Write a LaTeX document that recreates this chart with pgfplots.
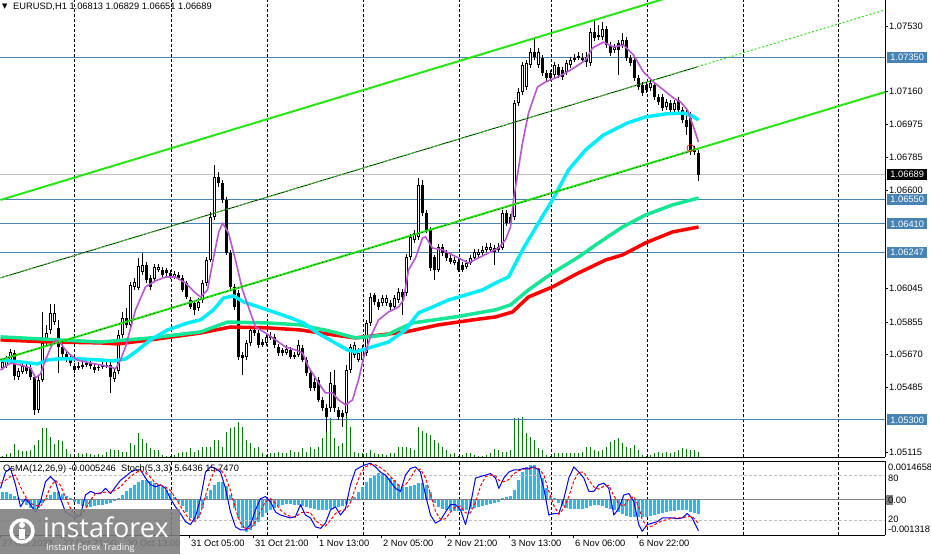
\documentclass[border=0pt]{standalone}
\usepackage{pgfplots}
\usepackage{pgfplotstable}
\pgfplotsset{compat=1.18}
\usepackage{fontspec}
\setmainfont{Liberation Sans}
\newfontfamily\wmfont{Open Sans}
\newfontfamily\symfont{DejaVu Sans}
\newcommand\lab{\fontsize{9.3}{11}\selectfont}

\definecolor{trgreen}{RGB}{40,230,20}
\definecolor{hblue}{RGB}{70,130,180}
\definecolor{maPurple}{RGB}{186,85,211}
\definecolor{maCyan}{RGB}{0,238,250}
\definecolor{maSpring}{RGB}{20,230,150}
\definecolor{maRed}{RGB}{255,0,0}
\definecolor{volgreen}{RGB}{0,128,0}
\definecolor{osma}{RGB}{40,185,240}
\definecolor{silverline}{RGB}{192,192,192}
\definecolor{wmgray}{RGB}{125,125,125}

% EURUSD H1 candles: index, open, high, low, close
\pgfplotstableread{
n O H L C
0 1.05594 1.05651 1.05583 1.05628
1 1.05605 1.05662 1.05594 1.05639
2 1.05639 1.05702 1.05628 1.05685
3 1.05679 1.05696 1.05526 1.05549
4 1.05543 1.05594 1.05526 1.05577
5 1.05572 1.05628 1.05560 1.05605
6 1.05605 1.05617 1.05560 1.05577
7 1.05594 1.05611 1.05526 1.05543
8 1.05543 1.05560 1.05328 1.05356
9 1.05356 1.05549 1.05339 1.05526
10 1.05526 1.05911 1.05515 1.05736
11 1.05736 1.05838 1.05719 1.05792
12 1.05809 1.05956 1.05787 1.05906
13 1.05854 1.05956 1.05838 1.05906
14 1.05821 1.05866 1.05566 1.05713
15 1.05713 1.05730 1.05656 1.05673
16 1.05673 1.05690 1.05628 1.05639
17 1.05645 1.05662 1.05605 1.05622
18 1.05605 1.05622 1.05566 1.05583
19 1.05594 1.05628 1.05583 1.05605
20 1.05600 1.05628 1.05589 1.05611
21 1.05611 1.05639 1.05600 1.05622
22 1.05622 1.05639 1.05589 1.05605
23 1.05600 1.05617 1.05566 1.05583
24 1.05594 1.05617 1.05577 1.05600
25 1.05600 1.05628 1.05589 1.05611
26 1.05600 1.05628 1.05594 1.05611
27 1.05611 1.05628 1.05453 1.05543
28 1.05532 1.05594 1.05515 1.05572
29 1.05577 1.05809 1.05560 1.05781
30 1.05781 1.05911 1.05764 1.05878
31 1.05878 1.05934 1.05821 1.05838
32 1.05838 1.06081 1.05821 1.06064
33 1.06053 1.06103 1.06036 1.06081
34 1.06047 1.06217 1.06036 1.06171
35 1.06137 1.06245 1.06120 1.06177
36 1.06177 1.06194 1.06075 1.06092
37 1.06103 1.06120 1.06036 1.06053
38 1.06098 1.06183 1.06087 1.06166
39 1.06149 1.06183 1.06137 1.06166
40 1.06149 1.06166 1.06109 1.06120
41 1.06149 1.06160 1.06115 1.06132
42 1.06132 1.06149 1.06098 1.06109
43 1.06109 1.06143 1.06098 1.06126
44 1.06120 1.06137 1.06092 1.06103
45 1.06103 1.06120 1.06024 1.06036
46 1.06075 1.06087 1.05985 1.05996
47 1.05979 1.05996 1.05928 1.05939
48 1.05962 1.05979 1.05894 1.05923
49 1.05934 1.05990 1.05917 1.05968
50 1.05979 1.06092 1.05962 1.06075
51 1.06075 1.06222 1.06058 1.06205
52 1.06205 1.06477 1.06194 1.06449
53 1.06449 1.06743 1.06432 1.06675
54 1.06675 1.06703 1.06619 1.06641
55 1.06641 1.06658 1.06528 1.06545
56 1.06545 1.06562 1.06234 1.06245
57 1.06245 1.06262 1.06036 1.06053
58 1.06053 1.06070 1.05923 1.05939
59 1.06019 1.06036 1.05639 1.05656
60 1.05668 1.05685 1.05555 1.05651
61 1.05656 1.05753 1.05639 1.05736
62 1.05736 1.05826 1.05719 1.05809
63 1.05809 1.05832 1.05775 1.05792
64 1.05792 1.05809 1.05707 1.05724
65 1.05741 1.05758 1.05713 1.05724
66 1.05736 1.05792 1.05719 1.05770
67 1.05764 1.05798 1.05753 1.05775
68 1.05770 1.05787 1.05707 1.05724
69 1.05713 1.05730 1.05662 1.05679
70 1.05696 1.05707 1.05662 1.05679
71 1.05679 1.05724 1.05668 1.05702
72 1.05696 1.05713 1.05645 1.05656
73 1.05668 1.05685 1.05645 1.05656
74 1.05668 1.05753 1.05656 1.05724
75 1.05707 1.05724 1.05628 1.05639
76 1.05639 1.05656 1.05549 1.05566
77 1.05566 1.05583 1.05464 1.05481
78 1.05515 1.05538 1.05464 1.05481
79 1.05526 1.05543 1.05402 1.05413
80 1.05413 1.05430 1.05351 1.05368
81 1.05368 1.05390 1.05232 1.05317
82 1.05368 1.05572 1.05345 1.05509
83 1.05498 1.05583 1.05345 1.05368
84 1.05356 1.05373 1.05300 1.05317
85 1.05339 1.05356 1.05260 1.05317
86 1.05339 1.05611 1.05322 1.05583
87 1.05583 1.05730 1.05566 1.05713
88 1.05668 1.05741 1.05651 1.05724
89 1.05639 1.05707 1.05628 1.05679
90 1.05639 1.05724 1.05628 1.05696
91 1.05679 1.05866 1.05662 1.05849
92 1.05849 1.06019 1.05832 1.05996
93 1.06007 1.06019 1.05951 1.05968
94 1.05968 1.05985 1.05923 1.05939
95 1.05962 1.06007 1.05945 1.05990
96 1.05962 1.06007 1.05945 1.05990
97 1.05962 1.05979 1.05923 1.05939
98 1.05939 1.06007 1.05923 1.05990
99 1.05979 1.06047 1.05962 1.06024
100 1.06024 1.06041 1.05894 1.05996
101 1.06019 1.06239 1.06002 1.06222
102 1.06222 1.06353 1.06205 1.06336
103 1.06319 1.06375 1.06302 1.06358
104 1.06336 1.06670 1.06319 1.06630
105 1.06630 1.06658 1.06454 1.06471
106 1.06471 1.06488 1.06358 1.06375
107 1.06375 1.06392 1.06143 1.06160
108 1.06222 1.06234 1.06092 1.06149
109 1.06149 1.06297 1.06137 1.06279
110 1.06279 1.06297 1.06228 1.06245
111 1.06245 1.06262 1.06200 1.06217
112 1.06217 1.06234 1.06183 1.06194
113 1.06188 1.06222 1.06177 1.06205
114 1.06194 1.06211 1.06137 1.06149
115 1.06177 1.06194 1.06137 1.06149
116 1.06166 1.06205 1.06154 1.06188
117 1.06188 1.06234 1.06177 1.06217
118 1.06217 1.06268 1.06205 1.06251
119 1.06234 1.06268 1.06222 1.06251
120 1.06245 1.06285 1.06234 1.06262
121 1.06262 1.06302 1.06251 1.06279
122 1.06262 1.06302 1.06245 1.06279
123 1.06273 1.06290 1.06177 1.06251
124 1.06262 1.06302 1.06251 1.06279
125 1.06273 1.06488 1.06262 1.06471
126 1.06471 1.06488 1.06398 1.06415
127 1.06449 1.06466 1.06398 1.06415
128 1.06449 1.07111 1.06432 1.07094
129 1.07094 1.07179 1.07077 1.07156
130 1.07156 1.07326 1.07139 1.07309
131 1.07185 1.07337 1.07168 1.07320
132 1.07309 1.07405 1.07292 1.07383
133 1.07383 1.07462 1.07337 1.07354
134 1.07309 1.07405 1.07292 1.07383
135 1.07349 1.07366 1.07247 1.07264
136 1.07264 1.07281 1.07219 1.07236
137 1.07264 1.07281 1.07219 1.07236
138 1.07252 1.07326 1.07236 1.07309
139 1.07298 1.07315 1.07236 1.07252
140 1.07281 1.07298 1.07224 1.07241
141 1.07269 1.07337 1.07252 1.07320
142 1.07309 1.07354 1.07292 1.07337
143 1.07337 1.07371 1.07326 1.07349
144 1.07349 1.07383 1.07337 1.07360
145 1.07337 1.07377 1.07320 1.07349
146 1.07354 1.07383 1.07298 1.07326
147 1.07320 1.07519 1.07303 1.07496
148 1.07496 1.07564 1.07445 1.07462
149 1.07468 1.07536 1.07451 1.07479
150 1.07468 1.07552 1.07451 1.07513
151 1.07513 1.07530 1.07405 1.07422
152 1.07422 1.07439 1.07360 1.07377
153 1.07394 1.07428 1.07377 1.07411
154 1.07434 1.07451 1.07252 1.07394
155 1.07422 1.07490 1.07405 1.07451
156 1.07451 1.07468 1.07332 1.07349
157 1.07349 1.07366 1.07303 1.07320
158 1.07337 1.07354 1.07219 1.07236
159 1.07236 1.07252 1.07168 1.07185
160 1.07196 1.07213 1.07134 1.07151
161 1.07196 1.07213 1.07151 1.07168
162 1.07179 1.07224 1.07162 1.07207
163 1.07196 1.07213 1.07111 1.07128
164 1.07128 1.07145 1.07083 1.07100
165 1.07128 1.07145 1.07049 1.07066
166 1.07071 1.07117 1.07054 1.07100
167 1.07094 1.07111 1.07037 1.07054
168 1.07054 1.07111 1.07037 1.07094
169 1.07111 1.07128 1.07037 1.07054
170 1.07054 1.07071 1.06981 1.06998
171 1.06998 1.07054 1.06913 1.06958
172 1.07009 1.07043 1.06800 1.06817
173 1.06817 1.06851 1.06800 1.06828
174 1.06813 1.06829 1.06651 1.06689
}\candles

% tick volume (relative)
\pgfplotstableread{
n v
0 1
1 3
2 4
3 13
4 7
5 6
6 6
7 7
8 12
9 17
10 29
11 29
12 20
13 13
14 17
15 16
16 8
17 3
18 2
19 4
20 3
21 4
22 3
23 2
24 3
25 2
26 5
27 8
28 7
29 7
30 5
31 5
32 14
33 12
34 24
35 18
36 14
37 9
38 7
39 7
40 2
41 1
42 1
43 2
44 4
45 5
46 5
47 9
48 5
49 7
50 10
51 10
52 10
53 17
54 17
55 10
56 25
57 29
58 30
59 35
60 30
61 17
62 14
63 9
64 10
65 4
66 2
67 4
68 4
69 5
70 4
71 4
72 7
73 5
74 5
75 9
76 5
77 10
78 8
79 10
80 19
81 47
82 39
83 19
84 11
85 14
86 47
87 30
88 5
89 4
90 4
91 4
92 7
93 4
94 3
95 3
96 2
97 4
98 4
99 10
100 10
101 10
102 9
103 7
104 30
105 26
106 24
107 22
108 17
109 14
110 10
111 7
112 3
113 4
114 1
115 2
116 4
117 4
118 2
119 1
120 1
121 2
122 4
123 8
124 7
125 5
126 5
127 7
128 39
129 39
130 40
131 24
132 20
133 17
134 9
135 7
136 2
137 1
138 4
139 4
140 4
141 4
142 4
143 4
144 4
145 5
146 10
147 10
148 7
149 6
150 7
151 10
152 15
153 17
154 19
155 14
156 10
157 9
158 12
159 7
160 2
161 1
162 2
163 4
164 5
165 4
166 5
167 4
168 5
169 7
170 9
171 8
172 7
173 7
174 5
}\vol

% OsMA(12,26,9)
\pgfplotstableread{
n v
0 3.01e-4
1 3.01e-4
2 2.26e-4
3 1.50e-4
4 0.75e-4
5 -0.75e-4
6 -1.88e-4
7 -3.01e-4
8 -3.76e-4
9 -3.01e-4
10 -1.13e-4
11 0.75e-4
12 1.88e-4
13 3.01e-4
14 3.01e-4
15 2.26e-4
16 1.50e-4
17 0.75e-4
18 -0.75e-4
19 -1.50e-4
20 -2.26e-4
21 -2.63e-4
22 -2.63e-4
23 -2.26e-4
24 -1.88e-4
25 -1.88e-4
26 -1.50e-4
27 -1.13e-4
28 -0.38e-4
29 0.75e-4
30 1.88e-4
31 3.38e-4
32 4.51e-4
33 5.64e-4
34 6.77e-4
35 7.52e-4
36 7.52e-4
37 7.14e-4
38 6.39e-4
39 5.64e-4
40 4.89e-4
41 3.76e-4
42 2.63e-4
43 1.13e-4
44 -0.75e-4
45 -2.26e-4
46 -4.51e-4
47 -6.77e-4
48 -8.27e-4
49 -6.77e-4
50 -3.01e-4
51 1.50e-4
52 3.76e-4
53 5.64e-4
54 6.77e-4
55 6.77e-4
56 5.26e-4
57 1.88e-4
58 -3.01e-4
59 -6.77e-4
60 -10.53e-4
61 -12.03e-4
62 -11.28e-4
63 -9.78e-4
64 -8.27e-4
65 -6.39e-4
66 -4.89e-4
67 -3.76e-4
68 -3.01e-4
69 -2.26e-4
70 -1.88e-4
71 -1.50e-4
72 -1.50e-4
73 -1.88e-4
74 -1.88e-4
75 -2.26e-4
76 -2.63e-4
77 -3.01e-4
78 -3.38e-4
79 -3.76e-4
80 -3.76e-4
81 -3.76e-4
82 -3.38e-4
83 -3.01e-4
84 -2.63e-4
85 -2.26e-4
86 -1.50e-4
87 -0.38e-4
88 1.13e-4
89 3.01e-4
90 4.89e-4
91 6.77e-4
92 8.27e-4
93 9.40e-4
94 10.15e-4
95 9.78e-4
96 9.02e-4
97 8.27e-4
98 7.52e-4
99 5.64e-4
100 4.89e-4
101 4.89e-4
102 5.26e-4
103 5.64e-4
104 6.39e-4
105 6.39e-4
106 5.64e-4
107 3.01e-4
108 -1.13e-4
109 -2.63e-4
110 -3.38e-4
111 -3.76e-4
112 -4.14e-4
113 -4.14e-4
114 -4.14e-4
115 -4.14e-4
116 -3.76e-4
117 -3.38e-4
118 -3.01e-4
119 -2.63e-4
120 -2.26e-4
121 -1.88e-4
122 -1.50e-4
123 -1.13e-4
124 -0.75e-4
125 0.75e-4
126 1.13e-4
127 1.50e-4
128 3.76e-4
129 7.52e-4
130 10.53e-4
131 12.41e-4
132 13.16e-4
133 13.16e-4
134 11.28e-4
135 8.27e-4
136 4.51e-4
137 1.50e-4
138 0.75e-4
139 -1.13e-4
140 -2.26e-4
141 -3.01e-4
142 -3.38e-4
143 -3.38e-4
144 -3.38e-4
145 -3.38e-4
146 -3.01e-4
147 -2.26e-4
148 -1.88e-4
149 -1.88e-4
150 -2.26e-4
151 -3.01e-4
152 -3.38e-4
153 -3.76e-4
154 -4.51e-4
155 -5.26e-4
156 -6.02e-4
157 -6.39e-4
158 -6.39e-4
159 -6.39e-4
160 -6.39e-4
161 -6.39e-4
162 -6.02e-4
163 -5.64e-4
164 -5.26e-4
165 -4.89e-4
166 -4.51e-4
167 -4.14e-4
168 -4.14e-4
169 -3.76e-4
170 -3.76e-4
171 -3.76e-4
172 -4.51e-4
173 -4.89e-4
174 -5.246e-4
}\osmatab

\pgfplotsset{
  panel/.style={scale only axis, width=885pt, xmin=-0.625, xmax=220.625, anchor=north west},
  daygrid/.style={extra x ticks={17.9,42.2,66.1,90.2,114.1,137.1,161.2,185.1,208.9},
    extra x tick labels={}, extra x tick style={grid=major, major tick length=0pt},
    major grid style={black, line width=0.8pt, dash pattern=on 3pt off 2pt}},
}
\tikzset{
  pbox/.style={anchor=west, fill=hblue, text=white, font=\lab, inner sep=0pt,
    minimum width=40pt, minimum height=11pt},
}

\begin{document}
\begin{tikzpicture}
\useasboundingbox (0pt,0pt) rectangle (931pt,-554pt);
\fill[white] (0pt,0pt) rectangle (931pt,-554pt);

% ---- volumes (main window overlay)
\begin{axis}[panel, at={(0pt,0pt)}, height=457pt, ymin=0, ymax=457, hide axis]
\addplot[ycomb, draw=volgreen, line width=1pt] table[x=n, y=v] {\vol};
\end{axis}

% ---- main price window
\begin{axis}[panel, at={(0pt,0pt)}, height=457pt, ymin=1.05090, ymax=1.07677,
  axis x line*=bottom, axis y line*=right, axis line style={-, black, line width=0.8pt},
  xtick=\empty, daygrid,
  ytick={1.05115,1.05485,1.05670,1.05855,1.06045,1.06600,1.06785,1.06975,1.07160,1.07530},
  yticklabels={1.05115,1.05485,1.05670,1.05855,1.06045,1.06600,1.06785,1.06975,1.07160,1.07530},
  tick align=outside, major tick length=3pt, tick style={black, line width=0.6pt},
  yticklabel style={font=\lab, anchor=west, inner sep=0pt, xshift=1pt},
]
% horizontal levels
\addplot[hblue, line width=1pt] coordinates {(-1,1.07350) (222,1.07350)};
\addplot[hblue, line width=1pt] coordinates {(-1,1.06550) (222,1.06550)};
\addplot[hblue, line width=1pt] coordinates {(-1,1.06410) (222,1.06410)};
\addplot[hblue, line width=1pt] coordinates {(-1,1.06247) (222,1.06247)};
\addplot[hblue, line width=1pt] coordinates {(-1,1.05300) (222,1.05300)};
\addplot[silverline, line width=1pt] coordinates {(-1,1.06689) (222,1.06689)};

% candles: wicks, bodies, white interiors of rising candles
\addplot[black, line width=1pt, quiver={u=0, v=\thisrow{H}-\thisrow{L}}]
  table[x=n, y=L] {\candles};
\addplot[black, line width=3pt, quiver={u=0, v={2*max(abs(\thisrow{C}-\thisrow{O})/2,0.00003)}}]
  table[x=n, y expr={(\thisrow{O}+\thisrow{C})/2-max(abs(\thisrow{C}-\thisrow{O})/2,0.00003)}] {\candles};
\addplot[white, line width=1pt, quiver={u=0, v={max(\thisrow{C}-\thisrow{O}-0.00012,0)}}]
  table[x=n, y expr={\thisrow{O}+0.00006}] {\candles};

% moving averages
\addplot[maRed, line width=3.5pt, line join=round] coordinates {
(-0.5,1.05753) (12,1.05741) (24.5,1.05736) (28.75,1.05730) (37,1.05753) (49.5,1.05792)
(57,1.05826) (66.25,1.05821) (74.5,1.05809) (82.75,1.05781) (88.25,1.05764) (100.75,1.05798)
(109,1.05838) (117.5,1.05866) (123.25,1.05883) (127.5,1.05911) (131.5,1.05996) (137.5,1.06053)
(144,1.06132) (150.75,1.06205) (155,1.06234) (160.75,1.06302) (167.5,1.06364) (174,1.06392)};
\addplot[maSpring, line width=3.5pt, line join=round] coordinates {
(-0.5,1.05770) (24.5,1.05741) (37,1.05764) (49.5,1.05798) (56.25,1.05854) (66.25,1.05849)
(74.5,1.05838) (82.75,1.05798) (88.25,1.05764) (96,1.05781) (102.5,1.05849) (113.25,1.05883)
(123.25,1.05923) (127,1.05951) (131.5,1.06036) (137.5,1.06132) (144,1.06222) (148.25,1.06290)
(155,1.06392) (160.75,1.06460) (167.5,1.06517) (174,1.06556)};
\addplot[maCyan, line width=3.5pt, line join=round] coordinates {
(-0.5,1.05639) (4.5,1.05628) (8.75,1.05617) (11.25,1.05639) (13.75,1.05645) (19.5,1.05645)
(24.5,1.05639) (27.75,1.05634) (30.75,1.05645) (33.25,1.05685) (37,1.05753) (41.25,1.05809)
(46.25,1.05849) (49.5,1.05866) (52.75,1.05923) (55.25,1.05990) (57.75,1.06002) (60.25,1.05968)
(66.25,1.05923) (72,1.05878) (75.25,1.05849) (78.75,1.05792) (82.75,1.05741) (86.25,1.05696)
(88.25,1.05685) (91.5,1.05707) (96.5,1.05741) (100.75,1.05809) (104,1.05906) (107.5,1.05939)
(111.5,1.05979) (115.75,1.06007) (120,1.06036) (123.25,1.06075) (126.5,1.06109) (130,1.06262)
(133.25,1.06387) (137.5,1.06545) (141.5,1.06715) (145.75,1.06828) (150.25,1.06913)
(156.25,1.06981) (160.75,1.07015) (165.75,1.07032) (170.25,1.07037) (172.5,1.07020) (174,1.06998)};
\addplot[maPurple, line width=1.6pt, line join=round] coordinates {
(-0.5,1.05583) (2,1.05622) (4.5,1.05611) (7,1.05594) (8.25,1.05538) (9.5,1.05560) (10.75,1.05639)
(12,1.05707) (13.25,1.05753) (14.5,1.05736) (15.75,1.05696) (17,1.05668) (18.75,1.05639)
(22,1.05622) (24.5,1.05611) (27,1.05600) (28.25,1.05589) (29.5,1.05639) (30.75,1.05713)
(33.25,1.05923) (35.75,1.06053) (38.25,1.06087) (40.75,1.06109) (43.25,1.06109) (45.75,1.06075)
(48.25,1.06019) (49.5,1.05996) (51.25,1.06036) (52.5,1.06188) (54,1.06358) (55,1.06415)
(56.5,1.06358) (58.25,1.06205) (60,1.06036) (62,1.05906) (63.25,1.05826) (65.75,1.05792)
(68.25,1.05753) (70.75,1.05713) (73.25,1.05696) (75,1.05679) (76.5,1.05600) (79,1.05509)
(80.75,1.05453) (82.5,1.05453) (84,1.05413) (85.75,1.05385) (87.5,1.05413) (89,1.05526)
(90.25,1.05651) (92,1.05770) (94,1.05866) (96.5,1.05911) (99,1.05939) (100.25,1.05979)
(101.5,1.06149) (103.25,1.06217) (105,1.06330) (105.75,1.06336) (107.5,1.06273) (110,1.06262)
(112.5,1.06234) (115,1.06205) (116.5,1.06188) (119,1.06217) (121.5,1.06245) (124,1.06273)
(125.75,1.06319) (127,1.06392) (127.75,1.06545) (130,1.06868) (131.5,1.07037) (133.75,1.07185)
(135.75,1.07213) (138.25,1.07236) (140.75,1.07264) (143.25,1.07298) (145.75,1.07337)
(147.5,1.07405) (150.25,1.07439) (152.75,1.07411) (155.25,1.07422) (157.75,1.07366)
(160.25,1.07269) (162.75,1.07213) (165.25,1.07168) (167.75,1.07122) (169.5,1.07100)
(171.25,1.07054) (172.75,1.06958) (174,1.06873)};

% channel lines
\addplot[trgreen, line width=2pt] coordinates {(-0.5,1.06545) (220.75,1.08063)};
\addplot[black, line width=0.8pt] coordinates {(-0.5,1.06104) (173.75,1.07299)};
\addplot[trgreen, line width=1pt, dash pattern=on 2pt off 2pt] coordinates {(-0.5,1.06104) (220.75,1.07622)};
\addplot[trgreen, line width=2pt] coordinates {(-0.5,1.05640) (220.75,1.07157)};
\addplot[black, line width=0.5pt, dash pattern=on 1pt off 3pt] coordinates {(-0.5,1.05640) (173.75,1.06832)};

\addplot[red, only marks, mark=o, mark size=3.5pt, line width=0.7pt] coordinates {(172,1.06839)};

\coordinate (b1) at (axis cs:220.625,1.07350);
\coordinate (b2) at (axis cs:220.625,1.06550);
\coordinate (b3) at (axis cs:220.625,1.06410);
\coordinate (b4) at (axis cs:220.625,1.06247);
\coordinate (b5) at (axis cs:220.625,1.05300);
\coordinate (b6) at (axis cs:220.625,1.06689);
\end{axis}

% ---- OsMA window
\begin{axis}[panel, at={(0pt,-461pt)}, height=74pt, ymin=-13.187e-4, ymax=14.658e-4,
  axis x line*=bottom, axis y line*=right, axis line style={-, black, line width=0.8pt},
  xtick=\empty, ytick=\empty, daygrid]
\addplot[ycomb, draw=osma, line width=3pt] table[x=n, y=v] {\osmatab};
\addplot[gray, line width=1pt] coordinates {(-1,0) (222,0)};
\end{axis}

% ---- Stochastic (5,3,3) window
\begin{axis}[panel, at={(0pt,-461pt)}, height=74pt, ymin=0, ymax=100,
  axis x line*=bottom, axis y line=none, axis line style={-, black, line width=0.8pt},
  ytick=\empty,
  xtick={-0.5,14.75,30.75,46.75,62.75,78.75,94.75,110.75,126.75,142.75,158.75},
  xticklabels={27 Oct 2023,27 Oct 21:00,30 Oct 13:00,31 Oct 05:00,31 Oct 21:00,1 Nov 13:00,2 Nov 05:00,2 Nov 21:00,3 Nov 13:00,6 Nov 06:00,6 Nov 22:00},
  tick align=outside, major tick length=3pt, tick style={black, line width=0.6pt},
  xticklabel style={font=\lab, anchor=north west, inner sep=0pt, xshift=1.5pt, yshift=-2pt}]
\addplot[silverline, line width=0.8pt, dash pattern=on 3pt off 2pt] coordinates {(-1,80) (222,80)};
\addplot[silverline, line width=0.8pt, dash pattern=on 3pt off 2pt] coordinates {(-1,20) (222,20)};
\addplot[blue, line width=1pt, line join=round] coordinates {
(-0.5,63)(0.75,85)(2,90)(3.25,68)(4.5,38)(5.75,49)(7,41)(8.25,31)(9.5,45)(10.75,72)(12,79)
(13.25,72)(14.5,49)(15.75,31)(17,27)(18.25,23)(19.5,27)(20.75,54)(22,59)(23.25,56)(24.5,56)
(25.75,63)(27,56)(28.25,65)(29.5,74)(30.75,79)(32,85)(33.25,88)(34.5,88)(35.75,77)(37,68)
(38.25,65)(39.5,68)(40.75,63)(42,49)(43.25,38)(44.5,29)(45.75,18)(47,14)(48.25,25)(49.5,49)
(50.75,85)(52,92)(53.25,90)(54.5,85)(55.75,63)(57,31)(58.25,11)(59.5,7)(60.75,7)(62,14)
(63.25,34)(64.5,49)(65.75,52)(67,45)(68.25,31)(69.5,27)(70.75,25)(72,23)(73.25,25)(74.5,41)
(75.75,27)(77,23)(78.25,11)(79.5,9)(80.75,16)(82,34)(83.25,38)(84.5,27)(85.75,36)(87,68)
(88.25,88)(89.5,92)(90.75,95)(92,97)(93.25,92)(94.5,85)(95.75,81)(97,72)(98.25,63)(99.5,59)
(100.75,81)(102,90)(103.25,92)(104.5,85)(105.75,54)(107,27)(108.25,16)(109.5,20)(110.75,31)
(112,41)(113.25,41)(114.5,34)(115.75,14)(117,41)(118.25,77)(119.5,79)(120.75,81)(122,83)
(123.25,77)(124.08,63)(125.33,77)(126.58,85)(127.83,88)(129.08,88)(130.33,90)(131.58,90)
(132.83,92)(134.08,88)(135.33,63)(136.58,27)(137.83,29)(139.08,29)(140.33,49)(141.58,77)
(142.83,92)(144.08,85)(145.33,77)(146.58,59)(147.83,59)(149.08,68)(150.33,70)(151.58,63)
(152.83,27)(154.08,36)(155.33,54)(156.58,56)(157.83,45)(159.08,14)(159.92,5)(161.17,14)
(162.42,16)(163.67,18)(164.92,23)(166.17,23)(167.42,23)(168.67,22)(169.92,23)(171.17,29)
(172.42,23)(174,5.64)};
\addplot[red, line width=1pt, dash pattern=on 3pt off 2pt] coordinates {
(-0.5,70)(0.75,74)(2,79)(3.25,81)(4.5,65)(5.75,52)(7,43)(8.25,40)(9.5,39)(10.75,49)(12,65)
(13.25,74)(14.5,67)(15.75,51)(17,36)(18.25,27)(19.5,26)(20.75,35)(22,47)(23.25,56)(24.5,57)
(25.75,58)(27,58)(28.25,61)(29.5,65)(30.75,73)(32,79)(33.25,84)(34.5,87)(35.75,84)(37,78)
(38.25,70)(39.5,67)(40.75,65)(42,60)(43.25,50)(44.5,39)(45.75,28)(47,20)(48.25,19)(49.5,29)
(50.75,53)(52,75)(53.25,89)(54.5,89)(55.75,79)(57,60)(58.25,35)(59.5,16)(60.75,8)(62,9)
(63.25,18)(64.5,32)(65.75,45)(67,49)(68.25,43)(69.5,34)(70.75,28)(72,25)(73.25,24)(74.5,30)
(75.75,31)(77,30)(78.25,20)(79.5,14)(80.75,12)(82,20)(83.25,29)(84.5,33)(85.75,34)(87,44)
(88.25,64)(89.5,83)(90.75,92)(92,95)(93.25,95)(94.5,91)(95.75,86)(97,79)(98.25,72)(99.5,65)
(100.75,68)(102,77)(103.25,88)(104.5,89)(105.75,77)(107,55)(108.25,32)(109.5,21)(110.75,22)
(112,31)(113.25,38)(114.5,39)(115.75,30)(117,30)(118.25,44)(119.5,66)(120.75,79)(122,81)
(123.25,80)(124.08,74)(125.33,72)(126.58,75)(127.83,83)(129.08,87)(130.33,89)(131.58,89)
(132.83,91)(134.08,90)(135.33,81)(136.58,59)(137.83,40)(139.08,28)(140.33,36)(141.58,52)
(142.83,73)(144.08,85)(145.33,85)(146.58,74)(147.83,65)(149.08,62)(150.33,66)(151.58,67)
(152.83,53)(154.08,42)(155.33,39)(156.58,49)(157.83,52)(159.08,38)(159.92,21)(161.17,11)
(162.42,12)(163.67,16)(164.92,19)(166.17,21)(167.42,23)(168.67,23)(169.92,23)(171.17,25)
(172.42,25)(174,15.75)};
\end{axis}

% top border of indicator window
\draw[black, line width=0.8pt] (0pt,-461pt) -- (885pt,-461pt);

% price boxes on the right scale
\node[pbox] at ([xshift=2pt]b1) {1.07350};
\node[pbox] at ([xshift=2pt]b2) {1.06550};
\node[pbox] at ([xshift=2pt]b3) {1.06410};
\node[pbox] at ([xshift=2pt]b4) {1.06247};
\node[pbox] at ([xshift=2pt]b5) {1.05300};
\node[pbox, fill=black] at ([xshift=2pt]b6) {1.06689};

% indicator window scale labels
\node[anchor=west, font=\lab, inner sep=0pt] at (888pt,-467pt) {0.0014658};
\node[anchor=west, font=\lab, inner sep=0pt] at (888pt,-478pt) {80};
\fill[gray] (886pt,-495pt) rectangle (893pt,-505pt);
\node[anchor=west, font=\lab, inner sep=0pt] at (888pt,-500pt) {0.00};
\node[anchor=west, font=\lab, inner sep=0pt] at (888pt,-519pt) {20};
\node[anchor=west, font=\lab, inner sep=0pt] at (888pt,-529pt) {-0.0013187};

% headers
\node[anchor=west, inner sep=0pt, font=\symfont\fontsize{7}{8}\selectfont] at (2pt,-7pt) {▼};
\node[anchor=west, inner sep=0pt, font=\lab] at (13pt,-7pt) {EURUSD,H1 1.06813 1.06829 1.06651 1.06689};
\node[anchor=west, inner sep=0pt, font=\lab] at (3pt,-469pt) {OsMA(12,26,9) -0.0005246 \ Stoch(5,3,3) 5.6436 15.7470};

% watermark
\fill[wmgray, opacity=0.88] (0pt,-509pt) rectangle (180pt,-554pt);
\draw[white, line width=3.5pt] (22pt,-531pt) circle (11pt);
\fill[white] (22pt,-525pt) circle (3pt);
\fill[white] (19pt,-529pt) rectangle (25pt,-539pt);
\node[anchor=base west, inner sep=0pt, text=white, font=\wmfont\fontsize{27}{30}\selectfont] at (43pt,-537pt) {instaforex};
\node[anchor=base west, inner sep=0pt, text=white, font=\wmfont\fontsize{9}{10}\selectfont] at (46pt,-550pt) {Instant Forex Trading};
\end{tikzpicture}
\end{document}
